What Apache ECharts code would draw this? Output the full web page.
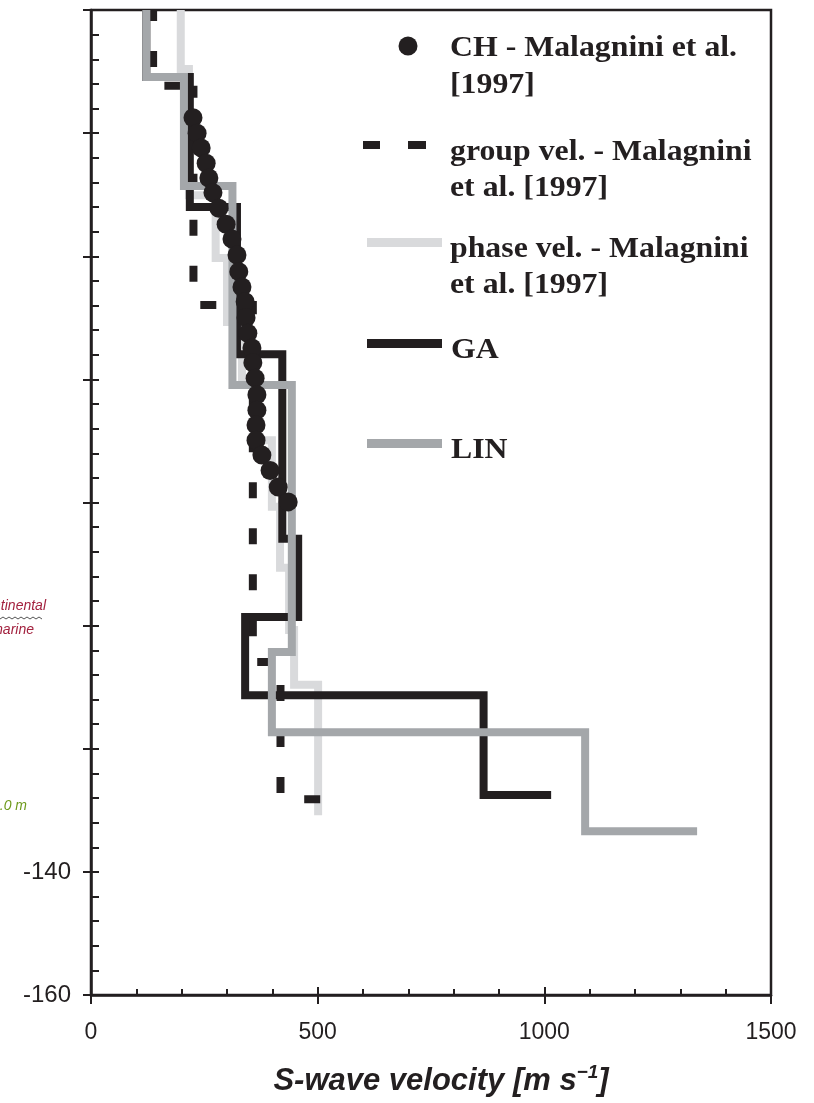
<!DOCTYPE html>
<html>
<head>
<meta charset="utf-8">
<script src="https://cdn.jsdelivr.net/npm/echarts@6/dist/echarts.min.js"></script>
<style>
html,body{margin:0;padding:0;background:#fff;}
#chart{width:814px;height:1103px;}
</style>
</head>
<body>
<div id="chart"></div>
<script>
// ---- data (velocity in m/s, depth in m) ----
const chDepth = [-17.5, -20, -22.4, -24.9, -27.3, -29.7, -32.2, -34.8, -37.2, -39.8, -42.5, -45, -47.4, -50, -52.5, -54.9, -57.3, -59.8, -62.5, -65, -67.4, -69.9, -72.3, -74.8, -77.5, -79.9];
const chVel   = [225, 234, 243, 254, 260, 269, 282, 298, 311, 322, 326, 333, 340, 342, 346, 355, 357, 362, 366, 366, 364, 364, 377, 395, 413, 435];

const groupVel   = [137, 137, 226, 226, 357, 357, 418, 418, 523];
const groupDepth = [0, -12.3, -12.3, -47.9, -47.9, -105.9, -105.9, -128.2, -128.2];

const phaseVel   = [198, 198, 216, 216, 275, 275, 300, 300, 333, 333, 364, 364, 399, 399, 417, 417, 437, 437, 448, 448, 501, 501];
const phaseDepth = [0, -9.6, -9.6, -30.1, -30.1, -40.3, -40.3, -50.7, -50.7, -60.8, -60.8, -69.9, -69.9, -80.7, -80.7, -90.6, -90.6, -100.7, -100.7, -109.6, -109.6, -130.8];

const gaVel   = [122, 122, 218, 218, 322, 322, 422, 422, 457, 457, 340, 340, 866, 866, 1015];
const gaDepth = [0, -10.9, -10.9, -32.0, -32.0, -55.9, -55.9, -85.9, -85.9, -98.6, -98.6, -111.3, -111.3, -127.5, -127.5];

const linVel   = [122, 122, 205, 205, 312, 312, 443, 443, 399, 399, 1090, 1090, 1337];
const linDepth = [0, -10.9, -10.9, -28.6, -28.6, -60.9, -60.9, -104.3, -104.3, -117.3, -117.3, -133.4, -133.4];

const shownYLabels = [-140, -160];
const legendLabels = ['CH - Malagnini et al.\n[1997]', 'group vel. - Malagnini\net al. [1997]', 'phase vel. - Malagnini\net al. [1997]', 'GA', 'LIN'];

// ---- build ----
const pairs = (xs, ys) => xs.map((x, i) => [x, ys[i]]);
const INK = '#231f20';
const LIN_C = '#a4a7aa';
const PH_C = '#d9dadc';

// the dashed profile is stroked in three pieces so each piece keeps its own dash phase
const groupPieces = [[0, 2], [2, 6], [6, 8]];
const groupDashOffsets = [5, 4, 23];

const chart = echarts.init(document.getElementById('chart'), null, {renderer: 'canvas'});

const yBase = {type: 'value', min: -160, max: 0, interval: 20, position: 'left', splitLine: {show: false}};
const xBase = {type: 'value', min: 0, max: 1500, interval: 500, position: 'bottom', splitLine: {show: false}};

const groupSeries = groupPieces.map((p, k) => ({
  name: 'group', type: 'line',
  data: pairs(groupVel.slice(p[0], p[1] + 1), groupDepth.slice(p[0], p[1] + 1)),
  showSymbol: false, symbol: 'none', z: 3, clip: false,
  lineStyle: {color: INK, width: 8, type: [16, 30], dashOffset: groupDashOffsets[k], cap: 'butt', join: 'miter'}
}));

const option = {
  backgroundColor: '#fff',
  animation: false,
  grid: {left: 91, right: 43, top: 10, bottom: 108, show: true, borderColor: INK, borderWidth: 2.5, backgroundColor: 'transparent'},
  xAxis: [
    Object.assign({}, xBase, {
      axisLine: {show: true, onZero: false, lineStyle: {color: INK, width: 2.5}},
      axisTick: {show: true, inside: false, length: 9, lineStyle: {color: INK, width: 2}},
      axisLabel: {show: true, margin: 26, color: '#231f20', fontFamily: 'Liberation Sans', fontSize: 23, formatter: v => String(v)},
      name: '{t|S-wave velocity [m s}{s|\u22121}{t|]}',
      nameLocation: 'middle',
      nameGap: 68,
      nameTextStyle: {
        padding: [0, 0, 0, 20],
        rich: {
          t: {fontFamily: 'Liberation Sans', fontWeight: 'bold', fontStyle: 'italic', fontSize: 31, color: '#231f20'},
          s: {fontFamily: 'Liberation Sans', fontWeight: 'bold', fontStyle: 'italic', fontSize: 19, color: '#231f20', padding: [0, 0, 17, 0]}
        }
      }
    }),
    Object.assign({}, xBase, {
      axisLine: {show: false, onZero: false},
      axisTick: {show: true, inside: true, length: 8, lineStyle: {color: INK, width: 2}},
      minorTick: {show: true, splitNumber: 5, length: 6, lineStyle: {color: INK, width: 2}},
      axisLabel: {show: false}
    })
  ],
  yAxis: [
    Object.assign({}, yBase, {
      axisLine: {show: true, onZero: false, lineStyle: {color: INK, width: 2.5}},
      axisTick: {show: true, inside: false, length: 8, lineStyle: {color: INK, width: 2}},
      axisLabel: {show: true, margin: 20, color: '#231f20', fontFamily: 'Liberation Sans', fontSize: 24,
        formatter: v => shownYLabels.indexOf(v) >= 0 ? String(v) : ''}
    }),
    Object.assign({}, yBase, {
      axisLine: {show: false, onZero: false},
      axisTick: {show: true, inside: true, length: 8, lineStyle: {color: INK, width: 2}},
      minorTick: {show: true, splitNumber: 5, length: 8, lineStyle: {color: INK, width: 2}},
      axisLabel: {show: false}
    })
  ],
  series: [
    {name: 'phase', type: 'line', data: pairs(phaseVel, phaseDepth), showSymbol: false, symbol: 'none', z: 2,
      lineStyle: {color: PH_C, width: 8, cap: 'butt', join: 'miter'}}
  ].concat(groupSeries).concat([
    {name: 'GA', type: 'line', data: pairs(gaVel, gaDepth), showSymbol: false, symbol: 'none', z: 4,
      lineStyle: {color: INK, width: 8, cap: 'butt', join: 'miter'}},
    {name: 'LIN', type: 'line', data: pairs(linVel, linDepth), showSymbol: false, symbol: 'none', z: 5,
      lineStyle: {color: LIN_C, width: 8, cap: 'butt', join: 'miter'}},
    {name: 'CH', type: 'scatter', data: pairs(chVel, chDepth), symbol: 'circle', symbolSize: 19, z: 6,
      itemStyle: {color: INK, opacity: 1}}
  ]),
  graphic: [
    // legend symbols
    {type: 'circle', shape: {cx: 408, cy: 46, r: 9.5}, style: {fill: INK}},
    {type: 'rect', shape: {x: 363, y: 141, width: 17, height: 8}, style: {fill: INK}},
    {type: 'rect', shape: {x: 408, y: 141, width: 18, height: 8}, style: {fill: INK}},
    {type: 'rect', shape: {x: 367, y: 238, width: 75, height: 9}, style: {fill: PH_C}},
    {type: 'rect', shape: {x: 367, y: 339, width: 75, height: 9}, style: {fill: INK}},
    {type: 'rect', shape: {x: 367, y: 439, width: 75, height: 9}, style: {fill: LIN_C}},
    // legend texts
    {type: 'text', x: 450, y: 30, scaleX: 1.06, style: {text: legendLabels[0], font: 'bold 30px "Liberation Serif"', fill: INK, lineHeight: 37, verticalAlign: 'top'}},
    {type: 'text', x: 450, y: 134, scaleX: 1.06, style: {text: legendLabels[1], font: 'bold 30px "Liberation Serif"', fill: INK, lineHeight: 36, verticalAlign: 'top'}},
    {type: 'text', x: 450, y: 231, scaleX: 1.06, style: {text: legendLabels[2], font: 'bold 30px "Liberation Serif"', fill: INK, lineHeight: 36, verticalAlign: 'top'}},
    {type: 'text', x: 451, y: 332, scaleX: 1.06, style: {text: legendLabels[3], font: 'bold 30px "Liberation Serif"', fill: INK, lineHeight: 36, verticalAlign: 'top'}},
    {type: 'text', x: 451, y: 432, scaleX: 1.06, style: {text: legendLabels[4], font: 'bold 30px "Liberation Serif"', fill: INK, lineHeight: 36, verticalAlign: 'top'}},
    // cropped fragments of the neighbouring panel at the left edge
    {type: 'text', x: 46, y: 606, style: {text: 'continental', font: 'italic 14px "Liberation Sans"', fill: '#a3223f', align: 'right', verticalAlign: 'middle'}},
    {type: 'polyline', shape: {points: [[0,619],[3,617],[6,619],[9,617],[12,619],[15,617],[18,619],[21,617],[24,619],[27,617],[30,619],[33,617],[36,619],[39,617],[42,619]]}, style: {stroke: '#555', lineWidth: 1, fill: null}},
    {type: 'text', x: 34, y: 630, style: {text: 'marine', font: 'italic 14px "Liberation Sans"', fill: '#a3223f', align: 'right', verticalAlign: 'middle'}},
    {type: 'text', x: 27, y: 806, style: {text: '10.0 m', font: 'italic 14px "Liberation Sans"', fill: '#6e9a1c', align: 'right', verticalAlign: 'middle'}}
  ]
};
chart.setOption(option);
</script>
</body>
</html>
